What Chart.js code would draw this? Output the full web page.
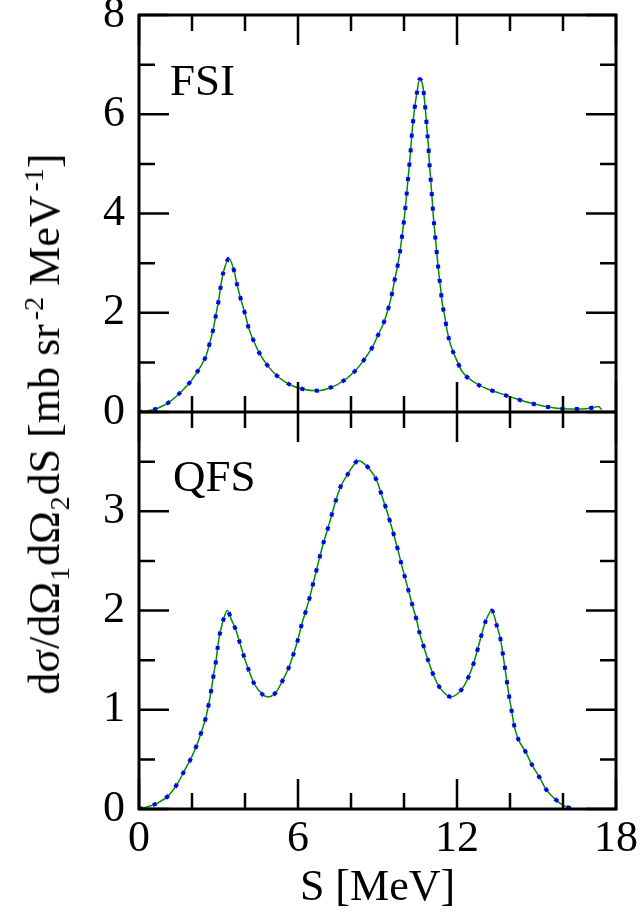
<!DOCTYPE html>
<html>
<head>
<meta charset="utf-8">
<script src="https://cdn.jsdelivr.net/npm/chart.js@4.4.1/dist/chart.umd.min.js"></script>
<style>
  html, body { margin: 0; padding: 0; background: #fff; }
  #wrap { position: relative; width: 640px; height: 915px; }
  #ytitle {
    position: absolute; left: 45px; top: 424px;
    transform: translate(-50%, -50%) rotate(-90deg);
    white-space: nowrap; color: #000;
    font-family: "Liberation Serif", "Times New Roman", serif;
    font-size: 44px; line-height: 1;
  }
  #ytitle sub, #ytitle sup { font-size: 28px; line-height: 0; }
  #ytitle sub { margin: 0 1px; }
  #ytitle sup { margin-left: 4px; }
</style>
</head>
<body>
<div id="wrap">
  <canvas id="chart" width="640" height="915"></canvas>
  <div id="ytitle">dσ/dΩ<sub>1</sub>dΩ<sub>2</sub>dS [mb sr<sup>-2</sup> MeV<sup>-1</sup>]</div>
</div>
<script>
// S in MeV, cross sections
const fsiS = [
  0, 0.19, 0.73, 1.19, 1.61, 1.97, 2.28, 2.53, 2.68, 2.81,
  2.91, 3.01, 3.09, 3.19, 3.40, 3.60, 3.71, 3.85, 4.00, 4.14,
  4.33, 4.55, 4.86, 5.25, 5.70, 6.20, 6.74, 7.27, 7.75, 8.16,
  8.49, 8.79, 9.03, 9.25, 9.41, 9.55, 9.65, 9.76, 9.85, 9.92,
  9.99, 10.05, 10.10, 10.15, 10.20, 10.25, 10.29, 10.34, 10.40, 10.48,
  10.59, 10.72, 10.78, 10.83, 10.87, 10.92, 10.95, 10.99, 11.03, 11.07,
  11.11, 11.16, 11.21, 11.26, 11.32, 11.38, 11.44, 11.54, 11.63, 11.76,
  11.96, 12.19, 12.59, 13.07, 13.60, 14.10, 14.63, 15.16, 15.69, 16.23,
  16.77, 17.05, 17.33, 17.46
];
const fsiXsec = [
  0, 0.01, 0.08, 0.22, 0.42, 0.63, 0.88, 1.13, 1.41, 1.69,
  1.98, 2.26, 2.55, 2.83, 3.09, 2.82, 2.54, 2.26, 1.98, 1.69,
  1.43, 1.18, 0.93, 0.71, 0.55, 0.46, 0.43, 0.50, 0.64, 0.83,
  1.05, 1.29, 1.56, 1.82, 2.09, 2.39, 2.67, 2.95, 3.24, 3.52,
  3.81, 4.11, 4.39, 4.68, 4.97, 5.26, 5.55, 5.84, 6.12, 6.41,
  6.71, 6.54, 6.25, 5.96, 5.67, 5.38, 5.09, 4.80, 4.52, 4.23,
  3.93, 3.64, 3.36, 3.07, 2.77, 2.49, 2.20, 1.92, 1.63, 1.35,
  1.08, 0.82, 0.62, 0.48, 0.38, 0.29, 0.20, 0.13, 0.08, 0.06,
  0.06, 0.08, 0.11, 0.05
];
const qfsS = [
  0, 0.16, 0.70, 1.13, 1.46, 1.72, 1.98, 2.19, 2.37, 2.53,
  2.64, 2.74, 2.82, 2.91, 2.98, 3.07, 3.21, 3.33, 3.50, 3.66,
  3.81, 3.97, 4.14, 4.35, 4.68, 4.84, 5.15, 5.43, 5.66, 5.84,
  5.99, 6.13, 6.29, 6.44, 6.57, 6.70, 6.83, 6.97, 7.13, 7.28,
  7.43, 7.61, 7.87, 8.29, 8.68, 8.97, 9.16, 9.32, 9.48, 9.63,
  9.77, 9.91, 10.05, 10.19, 10.33, 10.47, 10.60, 10.75, 10.92, 11.11,
  11.36, 11.77, 12.19, 12.45, 12.63, 12.79, 12.93, 13.09, 13.31, 13.51,
  13.65, 13.72, 13.81, 13.89, 13.97, 14.06, 14.15, 14.30, 14.58, 14.84,
  15.11, 15.38, 15.70, 15.99, 16.26, 16.40
];
const qfsXsec = [
  0, 0.01, 0.06, 0.14, 0.26, 0.39, 0.52, 0.65, 0.79, 0.93,
  1.07, 1.22, 1.36, 1.50, 1.65, 1.79, 1.93, 2.00, 1.90, 1.80,
  1.67, 1.53, 1.40, 1.26, 1.15, 1.13, 1.17, 1.30, 1.43, 1.57,
  1.70, 1.85, 1.99, 2.13, 2.27, 2.41, 2.55, 2.69, 2.83, 2.97,
  3.11, 3.25, 3.37, 3.51, 3.43, 3.31, 3.16, 3.03, 2.89, 2.75,
  2.61, 2.46, 2.32, 2.18, 2.04, 1.91, 1.76, 1.63, 1.49, 1.35,
  1.22, 1.13, 1.21, 1.34, 1.47, 1.62, 1.76, 1.90, 2.00, 1.84,
  1.70, 1.58, 1.42, 1.27, 1.13, 0.99, 0.85, 0.71, 0.58, 0.44,
  0.32, 0.19, 0.10, 0.04, 0.01, 0
];
const xTickLabels = [0, 6, 12, 18];
const fsiTickLabels = [0, 2, 4, 6, 8];
const qfsTickLabels = [0, 1, 2, 3];

const serif = '"Liberation Serif", "Times New Roman", serif';
const GREEN = "#008c00";
const BLUE = "#0000ff";

const toPoints = (xs, ys) => xs.map((x, i) => ({ x: x, y: ys[i] }));

function curve(xs, ys, axis, dotted) {
  return {
    data: toPoints(xs, ys),
    yAxisID: axis,
    borderColor: dotted ? BLUE : GREEN,
    borderWidth: dotted ? 4 : 1.5,
    borderDash: dotted ? [4, 10.5] : [],
    borderCapStyle: "butt",
    pointRadius: 0,
    cubicInterpolationMode: "monotone",
    fill: false,
    order: dotted ? 0 : 1,
  };
}

const tickFont = { family: serif, size: 44, lineHeight: 1.2 };

// frame, inward ticks, separator line and panel names
const frameTicks = {
  id: "frameTicks",
  afterDatasetsDraw(chart) {
    const { ctx, chartArea: a, scales } = chart;
    const sx = scales.x, yt = scales.yFsi, yb = scales.yQfs;
    const mid = yt.getPixelForValue(0);
    ctx.save();
    ctx.strokeStyle = "#000";
    ctx.lineWidth = 2.5;
    ctx.beginPath();
    sx.ticks.forEach((t) => {
      const px = sx.getPixelForValue(t.value);
      const len = t.value % 6 === 0 ? 30 : 16;
      ctx.moveTo(px, a.top); ctx.lineTo(px, a.top + len);
      ctx.moveTo(px, mid - len); ctx.lineTo(px, mid + len);
      ctx.moveTo(px, a.bottom); ctx.lineTo(px, a.bottom - len);
    });
    [[yt, 2], [yb, 1]].forEach(([s, major]) => {
      s.ticks.forEach((t) => {
        const py = s.getPixelForValue(t.value);
        const len = t.value % major === 0 ? 30 : 16;
        ctx.moveTo(a.left, py); ctx.lineTo(a.left + len, py);
        ctx.moveTo(a.right, py); ctx.lineTo(a.right - len, py);
      });
    });
    ctx.stroke();
    ctx.lineWidth = 3;
    ctx.strokeRect(a.left, a.top, a.right - a.left, a.bottom - a.top);
    ctx.beginPath();
    ctx.moveTo(a.left, mid); ctx.lineTo(a.right, mid);
    ctx.stroke();

    ctx.fillStyle = "#000";
    ctx.font = "45px " + serif;
    ctx.textBaseline = "alphabetic";
    ctx.fillText("FSI", sx.getPixelForValue(1.17), yt.getPixelForValue(6.39));
    ctx.fillText("QFS", sx.getPixelForValue(1.28), yb.getPixelForValue(3.2));
    ctx.restore();
  },
};

function noPad(s) {
  s.paddingTop = 0; s.paddingBottom = 0;
  s.paddingLeft = 0; s.paddingRight = 0;
}

new Chart(document.getElementById("chart"), {
  type: "line",
  data: {
    datasets: [
      curve(fsiS, fsiXsec, "yFsi", true),
      curve(fsiS, fsiXsec, "yFsi", false),
      curve(qfsS, qfsXsec, "yQfs", true),
      curve(qfsS, qfsXsec, "yQfs", false),
    ],
  },
  options: {
    responsive: false,
    animation: false,
    layout: { padding: { top: 15, right: 24, left: 0, bottom: 0 } },
    plugins: { legend: { display: false }, tooltip: { enabled: false } },
    scales: {
      x: {
        type: "linear", min: 0, max: 18,
        grid: { display: false, drawTicks: false },
        border: { display: false },
        ticks: {
          stepSize: 2, autoSkip: false, maxRotation: 0, padding: 4,
          color: "#000", font: tickFont,
          callback: (v) => (xTickLabels.includes(v) ? v : ""),
        },
        title: {
          display: true, text: "S [MeV]", color: "#000",
          font: tickFont, padding: { top: 0, bottom: 0 },
        },
        afterFit(s) { s.height = 106; noPad(s); },
      },
      // stacked scales: the first one listed goes to the bottom
      yQfs: {
        type: "linear", position: "left", stack: "panels", stackWeight: 1,
        min: 0, max: 4,
        grid: { display: false, drawTicks: false },
        border: { display: false },
        ticks: {
          stepSize: 0.5, autoSkip: false, padding: 14,
          color: "#000", font: tickFont,
          callback: (v) => (qfsTickLabels.includes(v) ? v : ""),
        },
        afterFit(s) { s.width = 139; noPad(s); },
      },
      yFsi: {
        type: "linear", position: "left", stack: "panels", stackWeight: 1,
        min: 0, max: 8,
        grid: { display: false, drawTicks: false },
        border: { display: false },
        ticks: {
          stepSize: 1, autoSkip: false, padding: 14,
          color: "#000", font: tickFont,
          callback: (v) => (fsiTickLabels.includes(v) ? v : ""),
        },
        afterFit(s) { s.width = 139; noPad(s); },
      },
    },
  },
  plugins: [frameTicks],
});
</script>
</body>
</html>
